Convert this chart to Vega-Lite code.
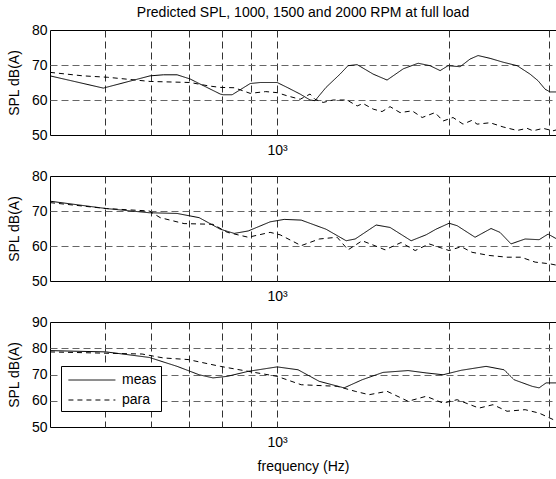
{
  "$schema": "https://vega.github.io/schema/vega-lite/v6.json",
  "background": "white",
  "padding": {"left": 6, "top": 5, "right": 0, "bottom": 0},
  "config": {
    "font": "Liberation Sans",
    "view": {"stroke": "black", "strokeWidth": 1},
    "axis": {"labelFontSize": 14, "titleFontSize": 14, "titleFontWeight": "normal", "labelColor": "black", "titleColor": "black", "domain": false, "tickSize": 0, "labelFont": "Liberation Sans", "titleFont": "Liberation Sans"},
    "title": {"font": "Liberation Sans", "fontSize": 14, "fontWeight": "normal", "color": "black"},
    "legend": {"labelFont": "Liberation Sans"}
  },
  "title": {"text": "Predicted SPL, 1000, 1500 and 2000 RPM at full load", "anchor": "middle", "frame": "group", "offset": 3},
  "bounds": "flush",
  "spacing": 41,
  "resolve": {"legend": {"strokeDash": "independent"}},
  "data": {"values": [
    {"p":1,"s":"meas","f":400,"v":66.9},{"p":1,"s":"meas","f":496,"v":63.4},{"p":1,"s":"meas","f":599,"v":66.9},{"p":1,"s":"meas","f":632,"v":67.2},{"p":1,"s":"meas","f":668,"v":67.2},{"p":1,"s":"meas","f":704,"v":66},{"p":1,"s":"meas","f":730,"v":64.7},{"p":1,"s":"meas","f":795,"v":61.7},{"p":1,"s":"meas","f":804,"v":61.5},{"p":1,"s":"meas","f":834,"v":61.5},{"p":1,"s":"meas","f":897,"v":64.7},{"p":1,"s":"meas","f":934,"v":65},{"p":1,"s":"meas","f":1000,"v":65},{"p":1,"s":"meas","f":1041,"v":63.6},{"p":1,"s":"meas","f":1097,"v":61.7},{"p":1,"s":"meas","f":1142,"v":60},{"p":1,"s":"meas","f":1165,"v":59.8},{"p":1,"s":"meas","f":1218,"v":63.6},{"p":1,"s":"meas","f":1289,"v":67.4},{"p":1,"s":"meas","f":1331,"v":69.8},{"p":1,"s":"meas","f":1381,"v":70.1},{"p":1,"s":"meas","f":1473,"v":67.4},{"p":1,"s":"meas","f":1558,"v":65.7},{"p":1,"s":"meas","f":1663,"v":68.9},{"p":1,"s":"meas","f":1766,"v":70.5},{"p":1,"s":"meas","f":1853,"v":69.8},{"p":1,"s":"meas","f":1930,"v":68.4},{"p":1,"s":"meas","f":1993,"v":69.8},{"p":1,"s":"meas","f":2092,"v":69.5},{"p":1,"s":"meas","f":2178,"v":71.7},{"p":1,"s":"meas","f":2249,"v":72.7},{"p":1,"s":"meas","f":2361,"v":71.9},{"p":1,"s":"meas","f":2488,"v":70.8},{"p":1,"s":"meas","f":2633,"v":69.8},{"p":1,"s":"meas","f":2774,"v":67.4},{"p":1,"s":"meas","f":2865,"v":65.5},{"p":1,"s":"meas","f":2947,"v":63.1},{"p":1,"s":"meas","f":3007,"v":62.3},{"p":1,"s":"meas","f":3090,"v":62.3},
    {"p":1,"s":"para","f":400,"v":67.9},{"p":1,"s":"para","f":457,"v":66.9},{"p":1,"s":"para","f":504,"v":66.5},{"p":1,"s":"para","f":599,"v":65.3},{"p":1,"s":"para","f":704,"v":65},{"p":1,"s":"para","f":760,"v":64},{"p":1,"s":"para","f":795,"v":63.6},{"p":1,"s":"para","f":841,"v":63.5},{"p":1,"s":"para","f":897,"v":61.9},{"p":1,"s":"para","f":955,"v":62.4},{"p":1,"s":"para","f":1000,"v":62.1},{"p":1,"s":"para","f":1041,"v":61.2},{"p":1,"s":"para","f":1097,"v":60.2},{"p":1,"s":"para","f":1142,"v":61.7},{"p":1,"s":"para","f":1165,"v":60.2},{"p":1,"s":"para","f":1204,"v":59.3},{"p":1,"s":"para","f":1253,"v":60},{"p":1,"s":"para","f":1325,"v":60},{"p":1,"s":"para","f":1381,"v":58.3},{"p":1,"s":"para","f":1414,"v":59},{"p":1,"s":"para","f":1473,"v":57.4},{"p":1,"s":"para","f":1527,"v":56.7},{"p":1,"s":"para","f":1577,"v":58.1},{"p":1,"s":"para","f":1642,"v":56.4},{"p":1,"s":"para","f":1724,"v":56.9},{"p":1,"s":"para","f":1795,"v":55},{"p":1,"s":"para","f":1891,"v":56.4},{"p":1,"s":"para","f":1953,"v":54},{"p":1,"s":"para","f":2033,"v":55},{"p":1,"s":"para","f":2117,"v":53.1},{"p":1,"s":"para","f":2195,"v":54.2},{"p":1,"s":"para","f":2240,"v":53.1},{"p":1,"s":"para","f":2361,"v":53.5},{"p":1,"s":"para","f":2488,"v":52.3},{"p":1,"s":"para","f":2633,"v":51.3},{"p":1,"s":"para","f":2741,"v":51.9},{"p":1,"s":"para","f":2808,"v":51.2},{"p":1,"s":"para","f":2924,"v":51.9},{"p":1,"s":"para","f":3043,"v":51.2},{"p":1,"s":"para","f":3090,"v":51.5},
    {"p":2,"s":"meas","f":400,"v":72.8},{"p":2,"s":"meas","f":502,"v":70.7},{"p":2,"s":"meas","f":597,"v":69.5},{"p":2,"s":"meas","f":668,"v":69.3},{"p":2,"s":"meas","f":730,"v":68.1},{"p":2,"s":"meas","f":795,"v":64.8},{"p":2,"s":"meas","f":841,"v":63.6},{"p":2,"s":"meas","f":890,"v":64.3},{"p":2,"s":"meas","f":972,"v":66.9},{"p":2,"s":"meas","f":1029,"v":67.6},{"p":2,"s":"meas","f":1102,"v":67.4},{"p":2,"s":"meas","f":1218,"v":64.8},{"p":2,"s":"meas","f":1321,"v":61.5},{"p":2,"s":"meas","f":1370,"v":62},{"p":2,"s":"meas","f":1491,"v":66},{"p":2,"s":"meas","f":1577,"v":65.3},{"p":2,"s":"meas","f":1717,"v":61.5},{"p":2,"s":"meas","f":1824,"v":63.2},{"p":2,"s":"meas","f":1898,"v":64.8},{"p":2,"s":"meas","f":2001,"v":66.5},{"p":2,"s":"meas","f":2067,"v":65.8},{"p":2,"s":"meas","f":2222,"v":62.5},{"p":2,"s":"meas","f":2370,"v":65},{"p":2,"s":"meas","f":2457,"v":63.9},{"p":2,"s":"meas","f":2569,"v":60.6},{"p":2,"s":"meas","f":2719,"v":62},{"p":2,"s":"meas","f":2877,"v":61.8},{"p":2,"s":"meas","f":2983,"v":63.4},{"p":2,"s":"meas","f":3090,"v":62},
    {"p":2,"s":"para","f":400,"v":72.4},{"p":2,"s":"para","f":502,"v":70.7},{"p":2,"s":"para","f":597,"v":70},{"p":2,"s":"para","f":624,"v":68.1},{"p":2,"s":"para","f":687,"v":66.4},{"p":2,"s":"para","f":772,"v":66.2},{"p":2,"s":"para","f":818,"v":63.9},{"p":2,"s":"para","f":890,"v":62.5},{"p":2,"s":"para","f":972,"v":63.9},{"p":2,"s":"para","f":1012,"v":63.2},{"p":2,"s":"para","f":1102,"v":60.1},{"p":2,"s":"para","f":1185,"v":62},{"p":2,"s":"para","f":1274,"v":62.5},{"p":2,"s":"para","f":1331,"v":58.9},{"p":2,"s":"para","f":1409,"v":61.5},{"p":2,"s":"para","f":1509,"v":59.6},{"p":2,"s":"para","f":1546,"v":58.9},{"p":2,"s":"para","f":1649,"v":61},{"p":2,"s":"para","f":1745,"v":58.7},{"p":2,"s":"para","f":1846,"v":60.6},{"p":2,"s":"para","f":2001,"v":58.7},{"p":2,"s":"para","f":2101,"v":59.8},{"p":2,"s":"para","f":2195,"v":58.2},{"p":2,"s":"para","f":2351,"v":57.3},{"p":2,"s":"para","f":2528,"v":56.8},{"p":2,"s":"para","f":2675,"v":56.8},{"p":2,"s":"para","f":2831,"v":55.4},{"p":2,"s":"para","f":3007,"v":54.9},{"p":2,"s":"para","f":3090,"v":54.5},
    {"p":3,"s":"meas","f":400,"v":79.1},{"p":3,"s":"meas","f":502,"v":78.6},{"p":3,"s":"meas","f":597,"v":76.5},{"p":3,"s":"meas","f":668,"v":73.1},{"p":3,"s":"meas","f":730,"v":69.9},{"p":3,"s":"meas","f":772,"v":68.7},{"p":3,"s":"meas","f":818,"v":69.3},{"p":3,"s":"meas","f":890,"v":71.2},{"p":3,"s":"meas","f":1000,"v":72.9},{"p":3,"s":"meas","f":1088,"v":71.8},{"p":3,"s":"meas","f":1185,"v":67.4},{"p":3,"s":"meas","f":1310,"v":64.9},{"p":3,"s":"meas","f":1409,"v":68},{"p":3,"s":"meas","f":1533,"v":70.8},{"p":3,"s":"meas","f":1696,"v":71.5},{"p":3,"s":"meas","f":1824,"v":70.6},{"p":3,"s":"meas","f":1953,"v":69.9},{"p":3,"s":"meas","f":2101,"v":71.6},{"p":3,"s":"meas","f":2323,"v":73.1},{"p":3,"s":"meas","f":2498,"v":71.8},{"p":3,"s":"meas","f":2601,"v":68},{"p":3,"s":"meas","f":2797,"v":65.5},{"p":3,"s":"meas","f":2877,"v":64.9},{"p":3,"s":"meas","f":2959,"v":66.8},{"p":3,"s":"meas","f":3090,"v":66.8},
    {"p":3,"s":"para","f":400,"v":78.6},{"p":3,"s":"para","f":580,"v":77.8},{"p":3,"s":"para","f":632,"v":76.3},{"p":3,"s":"para","f":698,"v":75.7},{"p":3,"s":"para","f":795,"v":73.1},{"p":3,"s":"para","f":890,"v":71.2},{"p":3,"s":"para","f":1000,"v":69.3},{"p":3,"s":"para","f":1102,"v":66.1},{"p":3,"s":"para","f":1274,"v":65.5},{"p":3,"s":"para","f":1370,"v":63.6},{"p":3,"s":"para","f":1449,"v":62.3},{"p":3,"s":"para","f":1558,"v":63.6},{"p":3,"s":"para","f":1696,"v":59.8},{"p":3,"s":"para","f":1824,"v":61.7},{"p":3,"s":"para","f":1953,"v":59.1},{"p":3,"s":"para","f":2067,"v":60.4},{"p":3,"s":"para","f":2258,"v":57.2},{"p":3,"s":"para","f":2389,"v":58.5},{"p":3,"s":"para","f":2528,"v":56},{"p":3,"s":"para","f":2719,"v":56.6},{"p":3,"s":"para","f":2877,"v":55.3},{"p":3,"s":"para","f":3090,"v":52.2}
  ]},
  "vconcat": [
    {
      "width": 506, "height": 105,
      "transform": [{"filter": "datum.p == 1"}],
      "mark": {"type": "line", "color": "black", "strokeWidth": 1, "clip": true},
      "encoding": {
        "x": {"field": "f", "type": "quantitative", "scale": {"type": "log", "domain": [400, 3080], "nice": false}, "axis": {"values": [500,600,700,800,900,1000,2000,3000], "labelExpr": "datum.value == 1000 ? '10³' : ''", "title": null, "grid": true, "gridColor": "#333", "gridDash": [7,4], "gridOpacity": 1, "labelPadding": 8}},
        "y": {"field": "v", "type": "quantitative", "scale": {"domain": [50, 80], "nice": false}, "axis": {"values": [50,60,70,80], "title": "SPL dB(A)", "grid": true, "gridColor": "#666", "gridDash": [7,4], "gridOpacity": {"condition": {"test": "datum.value > 50 && datum.value < 80", "value": 1}, "value": 0}, "labelPadding": 3, "titlePadding": 10}},
        "strokeDash": {"field": "s", "type": "nominal", "scale": {"domain": ["meas","para"], "range": [[1,0],[5,4]]}, "legend": null}
      }
    },
    {
      "width": 506, "height": 105,
      "transform": [{"filter": "datum.p == 2"}],
      "mark": {"type": "line", "color": "black", "strokeWidth": 1, "clip": true},
      "encoding": {
        "x": {"field": "f", "type": "quantitative", "scale": {"type": "log", "domain": [400, 3080], "nice": false}, "axis": {"values": [500,600,700,800,900,1000,2000,3000], "labelExpr": "datum.value == 1000 ? '10³' : ''", "title": null, "grid": true, "gridColor": "#333", "gridDash": [7,4], "gridOpacity": 1, "labelPadding": 8}},
        "y": {"field": "v", "type": "quantitative", "scale": {"domain": [50, 80], "nice": false}, "axis": {"values": [50,60,70,80], "title": "SPL dB(A)", "grid": true, "gridColor": "#666", "gridDash": [7,4], "gridOpacity": {"condition": {"test": "datum.value > 50 && datum.value < 80", "value": 1}, "value": 0}, "labelPadding": 3, "titlePadding": 10}},
        "strokeDash": {"field": "s", "type": "nominal", "scale": {"domain": ["meas","para"], "range": [[1,0],[5,4]]}, "legend": null}
      }
    },
    {
      "width": 506, "height": 105,
      "transform": [{"filter": "datum.p == 3"}],
      "mark": {"type": "line", "color": "black", "strokeWidth": 1, "clip": true},
      "encoding": {
        "x": {"field": "f", "type": "quantitative", "scale": {"type": "log", "domain": [400, 3080], "nice": false}, "axis": {"values": [500,600,700,800,900,1000,2000,3000], "labelExpr": "datum.value == 1000 ? '10³' : ''", "title": "frequency (Hz)", "grid": true, "gridColor": "#333", "gridDash": [7,4], "gridOpacity": 1, "labelPadding": 8, "titlePadding": 10}},
        "y": {"field": "v", "type": "quantitative", "scale": {"domain": [50, 90], "nice": false}, "axis": {"values": [50,60,70,80,90], "title": "SPL dB(A)", "grid": true, "gridColor": "#666", "gridDash": [7,4], "gridOpacity": {"condition": {"test": "datum.value > 50 && datum.value < 90", "value": 1}, "value": 0}, "labelPadding": 3, "titlePadding": 10}},
        "strokeDash": {"field": "s", "type": "nominal", "title": null, "scale": {"domain": ["meas","para"], "range": [[1,0],[5,4]]}, "legend": {"orient": "none", "legendX": 11, "legendY": 44, "symbolType": "M-0.7,0H4.3", "symbolSize": 353, "symbolStrokeColor": "black", "symbolStrokeWidth": 1, "labelFontSize": 14, "labelColor": "black", "labelExpr": "datum.label + '   '", "strokeColor": "black", "fillColor": "white", "padding": 4, "rowPadding": 3, "labelOffset": 37}}
      }
    }
  ]
}
